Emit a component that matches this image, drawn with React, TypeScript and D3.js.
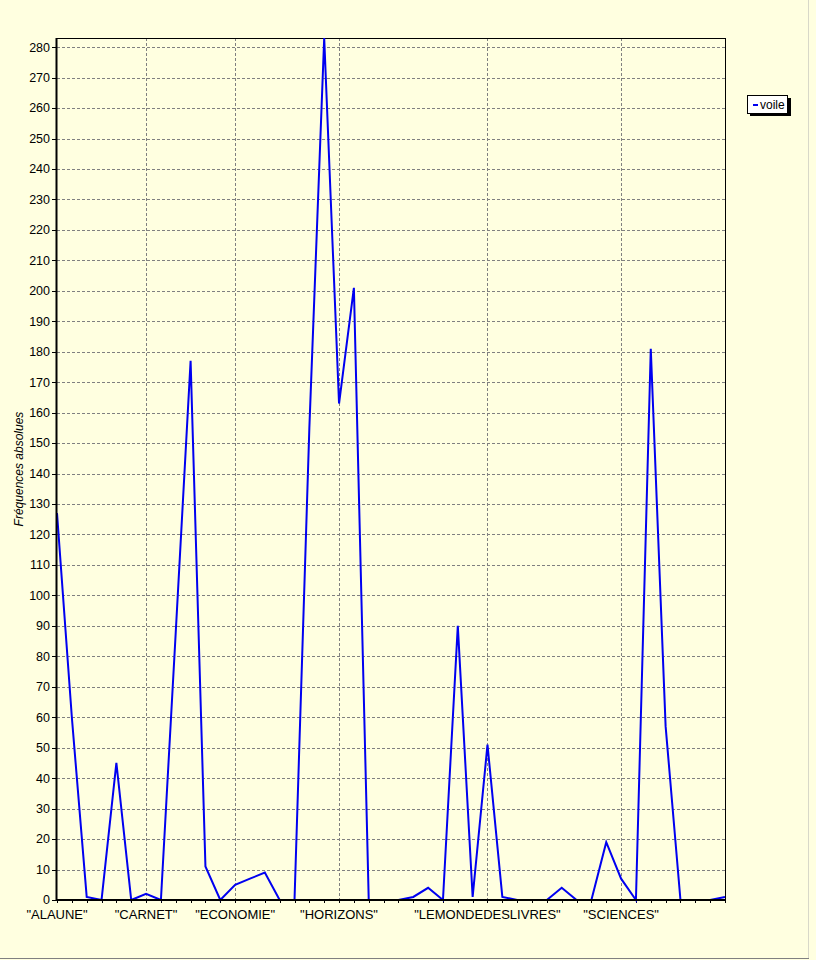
import React from "react";
import * as d3 from "d3";

const categories = ['"ALAUNE"', '"CARNET"', '"ECONOMIE"', '"HORIZONS"', '"LEMONDEDESLIVRES"', '"SCIENCES"'];
const categoryIndex = [0, 6, 12, 19, 29, 38];
const values = [
  127, 60, 1, 0, 45, 0, 2, 0, 88, 177,
  11, 0, 5, 7, 9, 0, 0, 155, 283, 163,
  201, 0, 0, 0, 1, 4, 0, 90, 1, 51,
  1, 0, 0, 0, 4, 0, 0, 19, 7, 0,
  181, 57, 0, 0, 0, 1,
];
const yTicks = d3.range(0, 281, 10);
const seriesName = "voile";
const yTitle = "Fréquences absolues";

export default function App() {
  const W = 816, H = 960;
  const left = 57, right = 725, top = 38, bottom = 900;
  const x = d3.scaleLinear().domain([0, values.length - 1]).range([left, right]);
  const y = d3.scaleLinear().domain([0, 283]).range([bottom, top]);
  const line = d3.line<number>().x((_, i) => x(i)).y((d) => y(d));
  const font = "'Liberation Sans', Arial, sans-serif";
  return (
    <svg width={W} height={H} style={{ position: "absolute", left: 0, top: 0, display: "block" }} fontFamily={font}>
      <rect x={0} y={0} width={W} height={H} fill="#ffffe0" />
      <line x1={808.5} y1={0} x2={808.5} y2={958} stroke="#d8d8c8" />
      <line x1={0} y1={958.5} x2={809} y2={958.5} stroke="#808080" />
      {/* grid */}
      {yTicks.filter((t) => t > 0).map((t) => (
        <line key={"h" + t} x1={left} x2={right} y1={Math.round(y(t)) + 0.5} y2={Math.round(y(t)) + 0.5}
          stroke="#808080" strokeDasharray="3,2" />
      ))}
      {categoryIndex.filter((i) => i > 0).map((i) => (
        <line key={"v" + i} x1={Math.round(x(i)) + 0.5} x2={Math.round(x(i)) + 0.5} y1={top} y2={bottom}
          stroke="#808080" strokeDasharray="3,2" />
      ))}
      {/* frame */}
      <line x1={left} x2={right + 0.5} y1={top + 0.5} y2={top + 0.5} stroke="#000" />
      <line x1={right + 0.5} x2={right + 0.5} y1={top} y2={bottom} stroke="#000" />
      {/* y ticks */}
      {yTicks.map((t) => (
        <g key={"yt" + t}>
          <line x1={52} x2={left} y1={Math.round(y(t)) + 0.5} y2={Math.round(y(t)) + 0.5} stroke="#000" />
          <text x={50} y={y(t)} dy="0.35em" textAnchor="end" fontSize={12.5} fill="#000">{t}</text>
        </g>
      ))}
      {/* x minor ticks */}
      {values.map((_, i) => (
        <line key={"xt" + i} x1={Math.round(x(i)) + 0.5} x2={Math.round(x(i)) + 0.5} y1={bottom} y2={bottom + 3} stroke="#000" />
      ))}
      {categories.map((c, k) => (
        <text key={c} x={x(categoryIndex[k])} y={919} textAnchor="middle" fontSize={13} fill="#000">{c}</text>
      ))}
      {/* series */}
      <path d={line(values) || ""} fill="none" stroke="#0000f0" strokeWidth={2} strokeLinejoin="miter" />
      {/* axes */}
      <line x1={left - 0.5} x2={left - 0.5} y1={top} y2={bottom + 1} stroke="#000" strokeWidth={2} />
      <line x1={left - 1} x2={right + 1} y1={bottom} y2={bottom} stroke="#000" strokeWidth={2} />
      {/* y title */}
      <text transform={`translate(23,${(top + bottom) / 2}) rotate(-90)`} textAnchor="middle" fontSize={12}
        fontStyle="italic" fill="#000">{yTitle}</text>
      {/* legend */}
      <rect x={750} y={98} width={41} height={18} fill="#000" />
      <rect x={747.5} y={95.5} width={40} height={18} fill="#fff" stroke="#000" />
      <line x1={753} x2={758} y1={105} y2={105} stroke="#0000f0" strokeWidth={2} />
      <text x={760} y={109} fontSize={12} fill="#000">{seriesName}</text>
    </svg>
  );
}
